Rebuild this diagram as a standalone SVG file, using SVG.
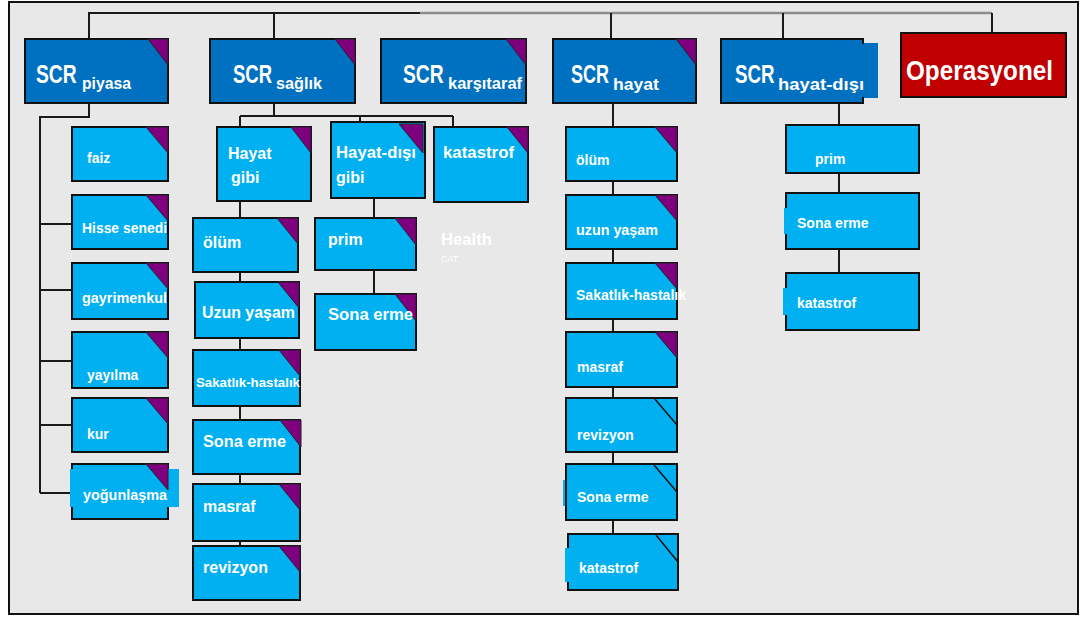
<svg xmlns="http://www.w3.org/2000/svg" width="1080" height="617" viewBox="0 0 1080 617">
<defs>
<style>
.frame{fill:#E8E8E8;stroke:#111;stroke-width:2}
.hdr{fill:#0070C0;stroke:#111;stroke-width:2}
.box{fill:#00B0F0;stroke:#111;stroke-width:2}
.ext{fill:#00B0F0;stroke:none}
.hext{fill:#0070C0;stroke:none}
.op{fill:#C00000;stroke:#111;stroke-width:2}
.tri{fill:#7F007F;stroke:#222;stroke-width:1}
.diag{stroke:#111;stroke-width:1.5;fill:none}
.conn{stroke:#1a1a1a;stroke-width:2;fill:none}
.conng{stroke:#8c8c8c;stroke-width:2.5;fill:none}
text{font-family:"Liberation Sans",Arial,sans-serif;font-weight:bold;fill:#fff}
.scr{font-size:25px}
.sub{font-size:17px}
.l16{font-size:16px}
.l14{font-size:14px}
.l13{font-size:13px}
</style>
</defs>
<rect x="0" y="0" width="1080" height="617" fill="#fff"/>
<rect class="frame" x="9" y="2" width="1069" height="612"/>

<g id="connectors">
<path class="conn" d="M89,39 V13 H420"/>
<path class="conng" d="M420,13 H992"/>
<path class="conn" d="M992,13 V40"/>
<path class="conn" d="M274,13 V39 M611,13 V39 M783,13 V39"/>
<path class="conn" d="M89,103 V117 H40 V493 M40,224 H72 M40,290 H72 M40,361 H72 M40,425 H72 M40,493 H70"/>
<path class="conn" d="M274,103 V116 M240,116 H453 M240,116 V127 M360,116 V124 M453,116 V127"/>
<path class="conn" d="M240,201 V546"/>
<path class="conn" d="M374,198 V294"/>
<path class="conn" d="M613,103 V534"/>
<path class="conn" d="M839,103 V273"/>
</g>

<g id="scr-piyasa">
<rect class="hdr" x="25" y="39" width="143" height="64"/>
<polygon class="tri" points="148,39 168,39 168,65"/>
<text class="scr" transform="translate(36,83) scale(0.77,1)">SCR</text>
<text class="sub" x="82" y="89" textLength="49" lengthAdjust="spacingAndGlyphs">piyasa</text>
</g>
<g id="scr-saglik">
<rect class="hdr" x="210" y="39" width="145" height="64"/>
<polygon class="tri" points="335,39 355,39 355,65"/>
<text class="scr" transform="translate(233,83) scale(0.74,1)">SCR</text>
<text class="sub" x="276" y="89" textLength="46" lengthAdjust="spacingAndGlyphs">sağlık</text>
</g>
<g id="scr-karsitaraf">
<rect class="hdr" x="381" y="39" width="145" height="64"/>
<polygon class="tri" points="506,39 526,39 526,65"/>
<text class="scr" transform="translate(403,83) scale(0.77,1)">SCR</text>
<text class="sub" x="448" y="89" textLength="74" lengthAdjust="spacingAndGlyphs">karşıtaraf</text>
</g>
<g id="scr-hayat">
<rect class="hdr" x="553" y="39" width="143" height="64"/>
<polygon class="tri" points="676,39 696,39 696,65"/>
<text class="scr" transform="translate(571,83) scale(0.72,1)">SCR</text>
<text class="sub" x="613" y="90" textLength="46" lengthAdjust="spacingAndGlyphs">hayat</text>
</g>
<g id="scr-hayat-disi">
<rect class="hext" x="860" y="43" width="18" height="55"/>
<rect class="hdr" x="721" y="39" width="142" height="64"/>
<rect class="hext" x="852" y="44" width="26" height="53"/>
<text class="scr" transform="translate(735,83) scale(0.75,1)">SCR</text>
<text class="sub" x="778" y="90" textLength="86" lengthAdjust="spacingAndGlyphs">hayat-dışı</text>
</g>
<g id="operasyonel">
<rect class="op" x="901" y="33" width="165" height="64"/>
<text x="906" y="80" font-size="27" textLength="147" lengthAdjust="spacingAndGlyphs">Operasyonel</text>
</g>

<g id="p-faiz">
<rect class="box" x="72" y="127" width="96" height="54"/>
<polygon class="tri" points="146,127 168,127 168,153"/>
<text class="l14" x="87" y="163">faiz</text>
</g>
<g id="p-hisse">
<rect class="box" x="72" y="195" width="96" height="54"/>
<polygon class="tri" points="146,195 168,195 168,221"/>
<text class="l14" x="82" y="233" textLength="85" lengthAdjust="spacingAndGlyphs">Hisse senedi</text>
</g>
<g id="p-gayrimenkul">
<rect class="box" x="72" y="263" width="96" height="56"/>
<polygon class="tri" points="146,263 168,263 168,289"/>
<text class="l14" x="82" y="303" textLength="85" lengthAdjust="spacingAndGlyphs">gayrimenkul</text>
</g>
<g id="p-yayilma">
<rect class="box" x="72" y="332" width="96" height="56"/>
<polygon class="tri" points="146,332 168,332 168,358"/>
<text class="l14" x="87" y="380">yayılma</text>
</g>
<g id="p-kur">
<rect class="box" x="72" y="398" width="96" height="54"/>
<polygon class="tri" points="146,398 168,398 168,424"/>
<text class="l14" x="87" y="439">kur</text>
</g>
<g id="p-yogunlasma">
<rect class="box" x="72" y="464" width="96" height="55"/>
<rect class="ext" x="70" y="469" width="109" height="38"/>
<polygon class="tri" points="146,464 168,464 168,490"/>
<text class="l14" x="83" y="500" textLength="84" lengthAdjust="spacingAndGlyphs">yoğunlaşma</text>
</g>

<g id="s-hayat-gibi">
<rect class="box" x="217" y="127" width="94" height="74"/>
<polygon class="tri" points="291,127 311,127 311,153"/>
<text class="l16" x="228" y="159">Hayat</text>
<text class="l16" x="231" y="183">gibi</text>
</g>
<g id="s-hayat-disi-gibi">
<rect class="box" x="331" y="122" width="94" height="76"/>
<polygon class="tri" points="399,124 423,124 423,153"/>
<text class="l16" x="336" y="158" textLength="80" lengthAdjust="spacingAndGlyphs">Hayat-dışı</text>
<text class="l16" x="336" y="183">gibi</text>
</g>
<g id="s-katastrof">
<rect class="box" x="434" y="127" width="94" height="75"/>
<polygon class="tri" points="507,127 528,127 528,153"/>
<text class="l16" x="443" y="158" textLength="71" lengthAdjust="spacingAndGlyphs">katastrof</text>
</g>
<g id="s-olum">
<rect class="box" x="193" y="218" width="105" height="54"/>
<polygon class="tri" points="277,218 298,218 298,244"/>
<text class="l16" x="203" y="248">ölüm</text>
</g>
<g id="s-uzun-yasam">
<rect class="box" x="195" y="282" width="104" height="56"/>
<polygon class="tri" points="278,282 299,282 299,308"/>
<text class="l16" x="202" y="318" textLength="93" lengthAdjust="spacingAndGlyphs">Uzun yaşam</text>
</g>
<g id="s-sakatlik">
<rect class="box" x="193" y="350" width="107" height="56"/>
<polygon class="tri" points="279,350 300,350 300,376"/>
<text class="l13" x="196" y="387" textLength="104" lengthAdjust="spacingAndGlyphs">Sakatlık-hastalık</text>
</g>
<g id="s-sona-erme">
<rect class="box" x="193" y="420" width="107" height="54"/>
<polygon class="tri" points="280,420 301,420 301,447"/>
<text class="l16" x="203" y="447" textLength="83" lengthAdjust="spacingAndGlyphs">Sona erme</text>
</g>
<g id="s-masraf">
<rect class="box" x="193" y="484" width="107" height="57"/>
<polygon class="tri" points="279,484 300,484 300,510"/>
<text class="l16" x="203" y="512">masraf</text>
</g>
<g id="s-revizyon">
<rect class="box" x="193" y="546" width="107" height="54"/>
<polygon class="tri" points="279,546 300,546 300,572"/>
<text class="l16" x="203" y="573">revizyon</text>
</g>
<g id="s-prim">
<rect class="box" x="315" y="218" width="101" height="52"/>
<polygon class="tri" points="395,218 416,218 416,245"/>
<text class="l16" x="328" y="245">prim</text>
</g>
<g id="s-prim-sona-erme">
<rect class="box" x="315" y="294" width="101" height="56"/>
<polygon class="tri" points="395,294 416,294 416,321"/>
<text class="l16" x="328" y="320" textLength="85" lengthAdjust="spacingAndGlyphs">Sona erme</text>
</g>
<g id="health-cat">
<text x="441" y="245" font-size="16" fill="#fafafa" textLength="51" lengthAdjust="spacingAndGlyphs" style="font-weight:600">Health</text>
<text x="441" y="262" font-size="9" style="font-weight:normal">CAT</text>
</g>

<g id="h-olum">
<rect class="box" x="566" y="127" width="111" height="54"/>
<polygon class="tri" points="655,127 677,127 677,153"/>
<text class="l14" x="576" y="165">ölüm</text>
</g>
<g id="h-uzun-yasam">
<rect class="box" x="566" y="195" width="111" height="54"/>
<polygon class="tri" points="655,195 677,195 677,221"/>
<text class="l14" x="576" y="235" textLength="82" lengthAdjust="spacingAndGlyphs">uzun yaşam</text>
</g>
<g id="h-sakatlik">
<rect class="box" x="566" y="263" width="111" height="56"/>
<polygon class="tri" points="655,263 677,263 677,289"/>
<text class="l14" x="576" y="300" textLength="110" lengthAdjust="spacingAndGlyphs">Sakatlık-hastalık</text>
</g>
<g id="h-masraf">
<rect class="box" x="566" y="332" width="111" height="55"/>
<polygon class="tri" points="655,332 677,332 677,358"/>
<text class="l14" x="577" y="372">masraf</text>
</g>
<g id="h-revizyon">
<rect class="box" x="566" y="398" width="111" height="54"/>
<line class="diag" x1="654" y1="398" x2="677" y2="425"/>
<text class="l14" x="577" y="440">revizyon</text>
</g>
<g id="h-sona-erme">
<rect class="ext" x="563" y="480" width="5" height="26"/>
<rect class="box" x="566" y="464" width="111" height="56"/>
<line class="diag" x1="654" y1="465" x2="677" y2="492"/>
<text class="l14" x="577" y="502">Sona erme</text>
</g>
<g id="h-katastrof">
<rect class="box" x="568" y="534" width="110" height="56"/>
<rect class="ext" x="565" y="548" width="5" height="34"/>
<line class="diag" x1="656" y1="535" x2="678" y2="562"/>
<text class="l14" x="579" y="573">katastrof</text>
</g>

<g id="hd-prim">
<rect class="box" x="786" y="125" width="133" height="48"/>
<text class="l14" x="815" y="164">prim</text>
</g>
<g id="hd-sona-erme">
<rect class="box" x="786" y="193" width="133" height="56"/>
<rect class="ext" x="784" y="208" width="4" height="26"/>
<text class="l14" x="797" y="228">Sona erme</text>
</g>
<g id="hd-katastrof">
<rect class="box" x="786" y="273" width="133" height="57"/>
<rect class="ext" x="783" y="288" width="5" height="27"/>
<text class="l14" x="797" y="308">katastrof</text>
</g>
</svg>
